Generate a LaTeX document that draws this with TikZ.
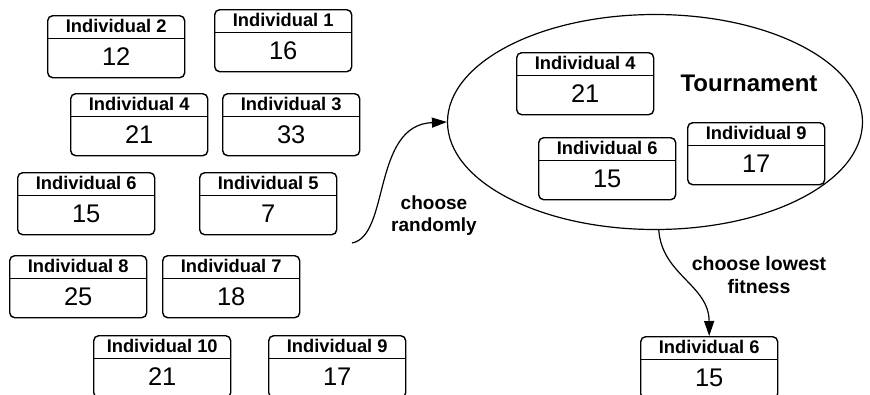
\documentclass[tikz,border=0pt]{standalone}
\usepackage{fontspec}
\setmainfont{Liberation Sans}
\usetikzlibrary{shapes.geometric,arrows.meta}

% one individual: name, left x, top y, header text, fitness value
\newcommand\indiv[5]{%
  \node[indbox, anchor=north west] (#1) at (#2,#3) {};
  \draw[sepline] ([yshift=-23pt]#1.north west) -- ([yshift=-23pt]#1.north east);
  \node[hdr] (#1h) at ([yshift=-17.8pt]#1.north) {#4};
  \node[val] (#1v) at ([yshift=-50pt]#1.north) {#5};
}

\begin{document}
\begin{tikzpicture}[x=1pt, y=-1pt,
  indbox/.style={draw, rounded corners=5pt, line width=1.4pt,
    minimum width=137pt, minimum height=62pt, inner sep=0pt},
  sepline/.style={line width=0.9pt},
  hdr/.style={anchor=base, inner sep=0pt, font=\bfseries\fontsize{18.3}{18}\selectfont},
  val/.style={anchor=base, inner sep=0pt, font=\fontsize{25.5}{25}\selectfont},
  lbl/.style={align=center, inner sep=0pt, font=\bfseries\fontsize{19}{22}\selectfont},
  arr/.style={line width=1.2pt, -{Triangle[length=15pt,width=10pt]}}]

\useasboundingbox (0,0) rectangle (870,394);

% population
\indiv{p2}{47}{15}{Individual 2}{12}
\indiv{p1}{214}{9}{Individual 1}{16}
\indiv{p4}{70}{93}{Individual 4}{21}
\indiv{p3}{222}{93}{Individual 3}{33}
\indiv{p6}{17}{172}{Individual 6}{15}
\indiv{p5}{199}{172}{Individual 5}{7}
\indiv{p8}{9}{255}{Individual 8}{25}
\indiv{p7}{162}{255}{Individual 7}{18}
\indiv{p10}{93}{335}{Individual 10}{21}
\indiv{p9}{268}{335}{Individual 9}{17}

% tournament
\node[draw, ellipse, line width=1.2pt, minimum width=415pt, minimum height=215pt,
  inner sep=0pt] (tour) at (655,122) {};
\indiv{t4}{516}{52}{Individual 4}{21}
\indiv{t6}{538}{137}{Individual 6}{15}
\indiv{t9}{687}{122}{Individual 9}{17}
\node[font=\bfseries\fontsize{24}{24}\selectfont, inner sep=0pt] (ttl) at (749,83) {Tournament};

% winner
\indiv{res}{640}{336}{Individual 6}{15}

% selection arrows
\coordinate (pool) at (352,243);
\draw[arr] (pool) .. controls (390,236) and (372,125) .. (tour.west);
\node[lbl] (l1) at (434,216) {choose\\randomly};

\draw[arr] (tour.-88) .. controls (662,275) and (709,285) .. (res.north);
\node[lbl, font=\bfseries\fontsize{19.5}{23}\selectfont] (l2) at (759,275) {choose lowest\\fitness};
\end{tikzpicture}
\end{document}
